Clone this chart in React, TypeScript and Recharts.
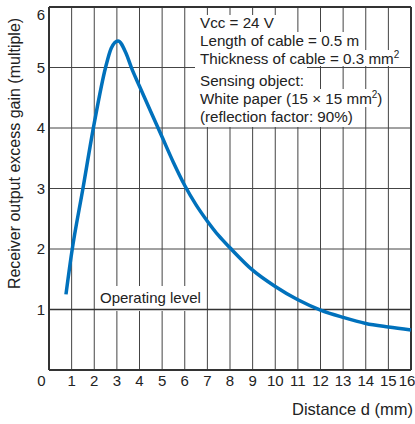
import React from "react"
import {
  LineChart,
  Line,
  XAxis,
  YAxis,
  CartesianGrid,
  ReferenceLine,
  Customized,
} from "recharts"

const distances = [0.75, 1, 1.5, 2, 2.5, 2.75, 3.05, 3.4, 3.65, 4, 4.5, 5, 5.5, 6, 6.5, 7, 7.5, 8, 9, 10, 11, 12, 13, 14, 15, 16]
const gains = [1.25, 1.93, 3.0, 4.08, 5.0, 5.32, 5.44, 5.24, 4.99, 4.69, 4.27, 3.85, 3.43, 3.05, 2.73, 2.46, 2.22, 2.02, 1.65, 1.38, 1.16, 0.99, 0.87, 0.77, 0.71, 0.66]

const xTicks = [0, 1, 2, 3, 4, 5, 6, 7, 8, 9, 10, 11, 12, 13, 14, 15, 16]
const yTicks = [1, 2, 3, 4, 5, 6]

const conditionLines = [
  "Vcc = 24 V",
  "Length of cable = 0.5 m",
  "Thickness of cable = 0.3 mm",
  "Sensing object:",
  "White paper (15 \u00d7 15 mm",
  "(reflection factor: 90%)",
]

const data = distances.map((d, i) => ({ d, gain: gains[i] }))

const FONT = "'Liberation Sans', Arial, Helvetica, sans-serif"
const INK = "#222"
const GRID = "#444"

const XTick = ({ x, y, payload }: any) => {
  let dx = 0
  if (payload.value === 0) dx = -7.5
  if (payload.value === 16) dx = -4
  return (
    <text x={x + dx} y={y} dy="0.71em" textAnchor="middle" fontSize={15} fontFamily={FONT} fill={INK}>
      {payload.value}
    </text>
  )
}

const YTick = ({ x, y, payload }: any) => {
  const dy = payload.value === 6 ? 8 : 0
  return (
    <text x={x} y={y + dy} dy="0.36em" textAnchor="end" fontSize={15} fontFamily={FONT} fill={INK}>
      {payload.value}
    </text>
  )
}

// white boxes behind the notes so the grid stops around them
const Notes = () => {
  const boxes = [
    { w: 83, top: 15, bottom: 32 },
    { w: 163, top: 32, bottom: 50 },
    { w: 203, top: 50, bottom: 66 },
    { w: 113, top: 71, bottom: 89 },
    { w: 187, top: 89, bottom: 107 },
    { w: 157, top: 107, bottom: 127 },
  ]
  const baselines = [28.3, 46, 64, 85.7, 104.3, 121.5]
  return (
    <g fontFamily={FONT} fontSize={15.2} fill={INK}>
      {boxes.map((b, i) => (
        <rect key={`b-${i}`} x={195} y={b.top} width={b.w} height={b.bottom - b.top} fill="#fff" />
      ))}
      <rect x={195} y={64} width={112} height={8} fill="#fff" />
      {conditionLines.map((t, i) => (
        <text key={`t-${i}`} x={200} y={baselines[i]}>
          {t}
          {i === 2 && <tspan dy={-6} fontSize={10}>2</tspan>}
          {i === 4 && <tspan dy={-6} fontSize={10}>2</tspan>}
          {i === 4 && <tspan dy={6}>)</tspan>}
        </text>
      ))}
      <rect x={97} y={286} width={106} height={25} fill="#fff" />
      <text x={100} y={302.7} fontSize={15}>Operating level</text>
    </g>
  )
}

const App: React.FC = () => {
  return (
    <div style={{ position: "absolute", left: 0, top: 0, width: 415, height: 424, background: "#fff" }}>
      <LineChart width={415} height={424} data={data} margin={{ top: 7, right: 4, bottom: 24, left: 0 }}>
        <CartesianGrid stroke={GRID} strokeWidth={1} />
        <XAxis
          dataKey="d"
          type="number"
          domain={[0, 16]}
          ticks={xTicks}
          interval={0}
          height={30}
          tickSize={0}
          tickMargin={5}
          tick={<XTick />}
          axisLine={{ stroke: "#333", strokeWidth: 2 }}
          tickLine={false}
        />
        <YAxis
          type="number"
          domain={[0, 6]}
          ticks={yTicks}
          interval={0}
          width={49}
          tickSize={0}
          tickMargin={4}
          tick={<YTick />}
          axisLine={{ stroke: "#333", strokeWidth: 2 }}
          tickLine={false}
        />
        <ReferenceLine y={6} stroke="#333" strokeWidth={2} />
        <ReferenceLine x={16} stroke="#333" strokeWidth={2} />
        <ReferenceLine y={1} stroke="#333" strokeWidth={1.6} />
        <Customized component={<Notes />} />
        <Line
          type="monotone"
          dataKey="gain"
          stroke="#0071BC"
          strokeWidth={3.5}
          dot={false}
          isAnimationActive={false}
        />
        <Customized
          component={
            <g fontFamily={FONT} fill={INK}>
              <text x={14.5} y={153.5} fontSize={16} textAnchor="middle" dy="0.36em" transform="rotate(-90 14.5 153.5)">
                Receiver output excess gain (multiple)
              </text>
              <text x={413} y={415} fontSize={16.5} textAnchor="end">
                Distance d (mm)
              </text>
            </g>
          }
        />
      </LineChart>
    </div>
  )
}

export default App
